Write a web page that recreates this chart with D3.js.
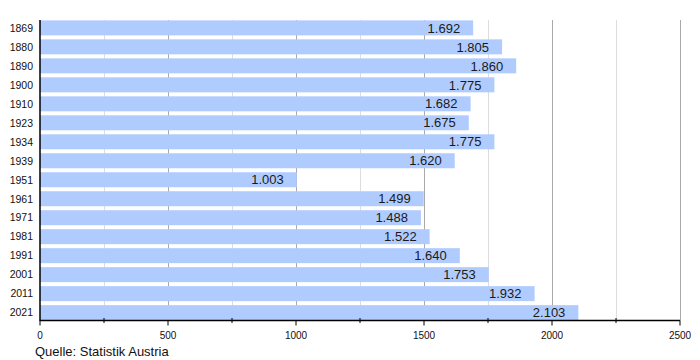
<!DOCTYPE html>
<html><head><meta charset="utf-8">
<script src="https://cdn.jsdelivr.net/npm/d3@7"></script>
<style>body{margin:0;background:#fff}svg{display:block;font-family:"Liberation Sans",Arial,sans-serif}</style>
</head><body><svg id="c" width="700" height="360"></svg>
<script>
const years = ["1869","1880","1890","1900","1910","1923","1934","1939","1951","1961","1971","1981","1991","2001","2011","2021"];
const population = [1692,1805,1860,1775,1682,1675,1775,1620,1003,1499,1488,1522,1640,1753,1932,2103];
const majorTicks = [0,500,1000,1500,2000,2500];
const minorTicks = [250,750,1250,1750,2250];
const source = "Quelle: Statistik Austria";

(function(){
const svg = d3.select("#c");
const L = 40, R = 680, T = 20, B = 320.5;
const x = d3.scaleLinear().domain([0,2500]).range([L,R]);
const y = d3.scaleBand().domain(years).range([T,B]).paddingInner(0.21).paddingOuter(0.02);

svg.append("g").selectAll("line").data(minorTicks).join("line")
  .attr("x1",d=>Math.round(x(d))+0.5).attr("x2",d=>Math.round(x(d))+0.5)
  .attr("y1",T).attr("y2",B).attr("stroke","#dddddd");
svg.append("g").selectAll("line").data(majorTicks.slice(1)).join("line")
  .attr("x1",d=>Math.round(x(d))+0.5).attr("x2",d=>Math.round(x(d))+0.5)
  .attr("y1",T).attr("y2",B).attr("stroke","#aaaaaa");

svg.append("g").selectAll("rect").data(population).join("rect")
  .attr("x",x(0)).attr("y",(d,i)=>y(years[i]))
  .attr("width",d=>x(d)-x(0)).attr("height",y.bandwidth())
  .attr("fill","#b0ccff");

const fmt = d => d3.format(",")(d).replace(/,/g,".");
svg.append("g").selectAll("text").data(population).join("text")
  .attr("x",d=>x(d)-13).attr("y",(d,i)=>y(years[i])+y.bandwidth()/2)
  .attr("dy","0.36em").attr("text-anchor","end")
  .attr("font-size",13).attr("fill","#1a1a1a").text(fmt);

svg.append("g").selectAll("text").data(years).join("text")
  .attr("x",33).attr("y",d=>y(d)+y.bandwidth()/2).attr("dy","0.36em")
  .attr("text-anchor","end").attr("font-size",10.5).attr("fill","#111").text(d=>d);

svg.append("line").attr("x1",L).attr("x2",L).attr("y1",T).attr("y2",B+0.5)
  .attr("stroke","#000").attr("stroke-width",1.5);
svg.append("line").attr("x1",L).attr("x2",R).attr("y1",B).attr("y2",B)
  .attr("stroke","#000").attr("stroke-width",1.5);

svg.append("g").selectAll("line").data(majorTicks).join("line")
  .attr("x1",d=>x(d)).attr("x2",d=>x(d)).attr("y1",B).attr("y2",B+5)
  .attr("stroke","#000");
svg.append("g").selectAll("line").data(minorTicks).join("line")
  .attr("x1",d=>x(d)).attr("x2",d=>x(d)).attr("y1",B-2.5).attr("y2",B+2.5)
  .attr("stroke","#000");
svg.append("g").selectAll("text").data(majorTicks).join("text")
  .attr("x",d=>x(d)).attr("y",338.5).attr("text-anchor","middle")
  .attr("font-size",10).attr("fill","#111").text(d=>d);

svg.append("text").attr("x",35).attr("y",356).attr("font-size",13).attr("fill","#111").text(source);
})();
</script></body></html>
